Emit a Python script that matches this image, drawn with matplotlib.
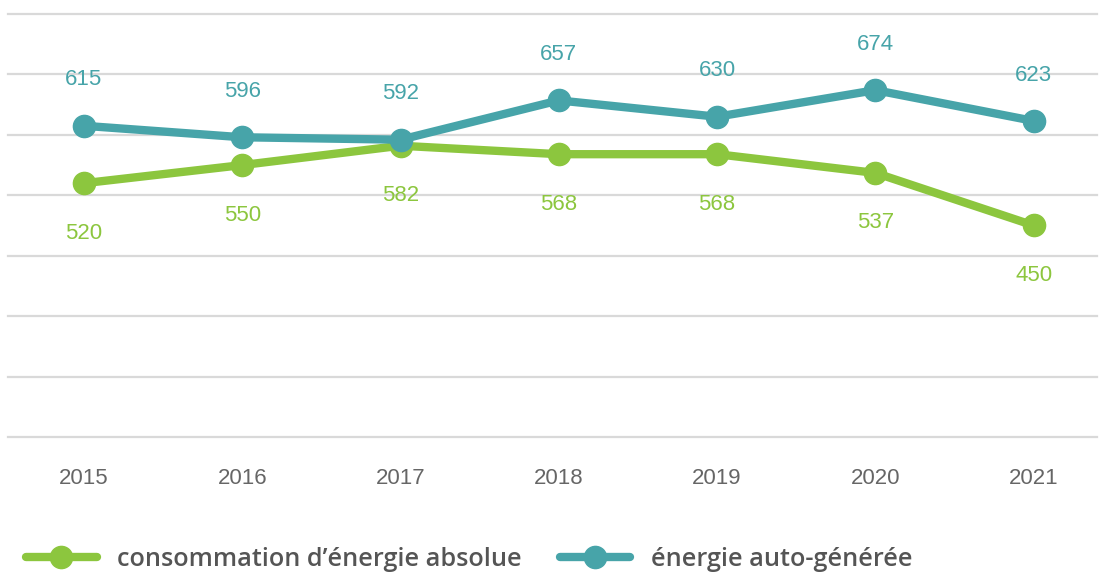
import matplotlib.pyplot as plt
from matplotlib.lines import Line2D

years = ["2015", "2016", "2017", "2018", "2019", "2020", "2021"]
consommation = [520, 550, 582, 568, 568, 537, 450]
auto_generee = [615, 596, 592, 657, 630, 674, 623]
grid_values = [100, 200, 300, 400, 500, 600, 700, 800]

GREEN = "#8cc63e"
TEAL = "#47a4a9"
GRID = "#d9d9d9"

fig = plt.figure(figsize=(10.99, 5.74), dpi=100)
ax = fig.add_axes([8 / 1099, 1 - 437 / 574, 1089 / 1099, 423 / 574])

x = list(range(len(years)))

for v in grid_values:
    ax.axhline(v, color=GRID, linewidth=1.6, clip_on=False, zorder=0)

ax.plot(x, consommation, color=GREEN, linewidth=6, marker="o", markersize=16,
        solid_capstyle="round", zorder=3)
ax.plot(x, auto_generee, color=TEAL, linewidth=6, marker="o", markersize=16,
        solid_capstyle="round", zorder=4)

for xi, v in zip(x, auto_generee):
    ax.annotate(str(v), (xi, v), xytext=(0, 33), textcoords="offset points",
                ha="center", va="center", color=TEAL, fontsize=16,
                family="Liberation Sans")
for xi, v in zip(x, consommation):
    ax.annotate(str(v), (xi, v), xytext=(0, -36), textcoords="offset points",
                ha="center", va="center", color=GREEN, fontsize=16,
                family="Liberation Sans")

ax.set_xlim(-0.48, 6.40)
ax.set_ylim(100, 800)
ax.set_xticks(x)
ax.set_xticklabels(years, fontsize=16, color="#666666", family="Liberation Sans")
ax.tick_params(axis="x", length=0, pad=22)
ax.set_yticks([])
for s in ax.spines.values():
    s.set_visible(False)

handles = [
    Line2D([], [], color=GREEN, linewidth=6, marker="o", markersize=16,
           solid_capstyle="round"),
    Line2D([], [], color=TEAL, linewidth=6, marker="o", markersize=16,
           solid_capstyle="round"),
]
leg = fig.legend(handles, ["consommation d\u2019énergie absolue", "énergie auto-générée"],
                 loc="center left", bbox_to_anchor=(26 / 1099, 1 - 559 / 574),
                 ncol=2, frameon=False, handlelength=2.8, handletextpad=0.8,
                 columnspacing=1.5, borderaxespad=0, borderpad=0,
                 prop={"family": "Open Sans", "weight": "semibold", "size": 18.2})
for t in leg.get_texts():
    t.set_color("#555555")

fig.savefig("out.png", dpi=100)
